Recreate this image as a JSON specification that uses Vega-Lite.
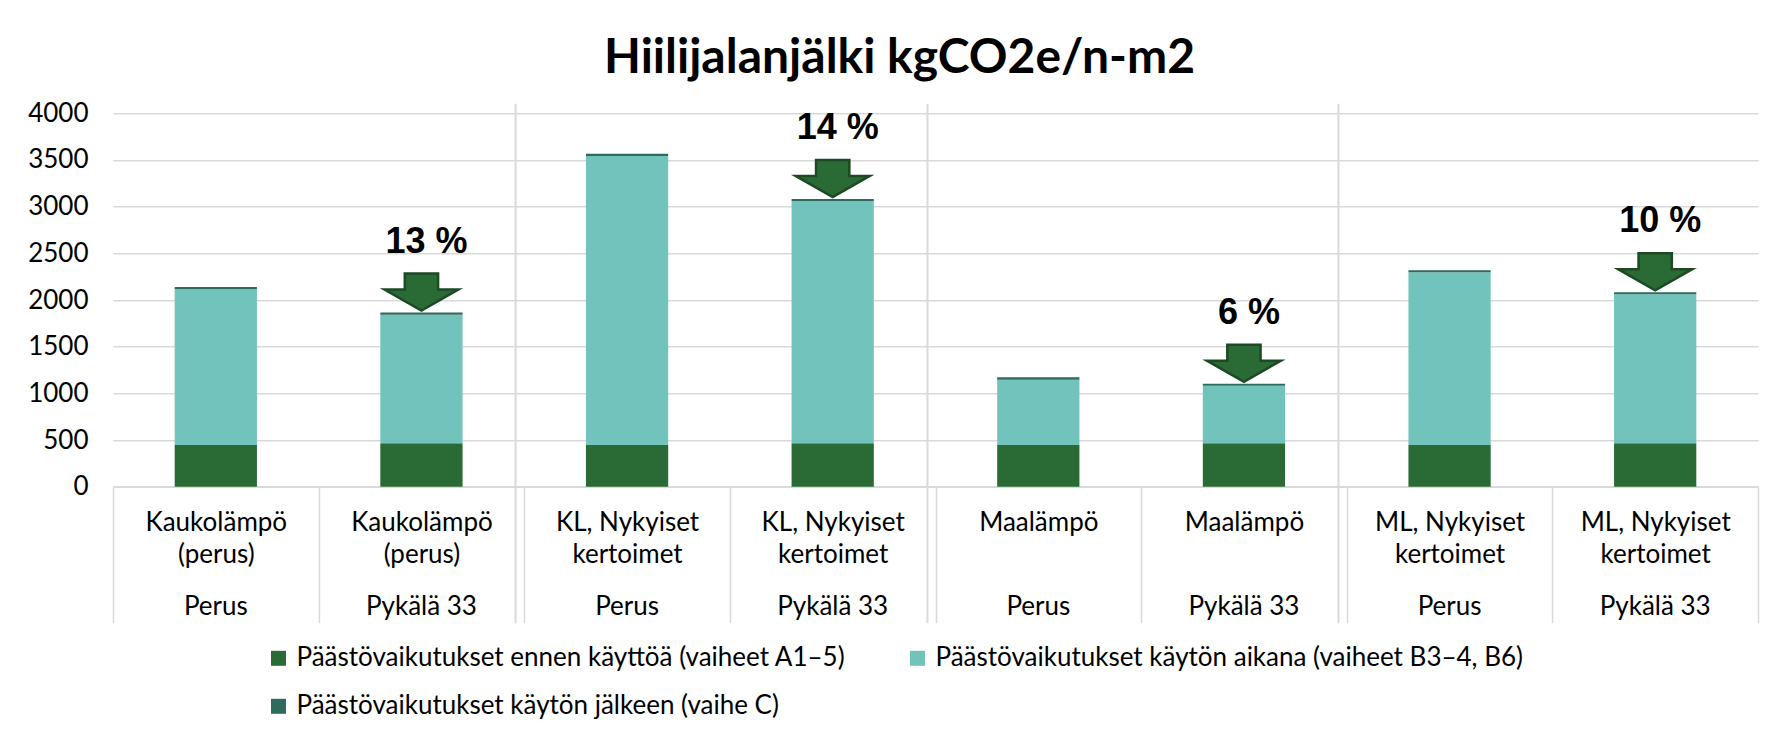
{
  "$schema": "https://vega.github.io/schema/vega-lite/v6.json",
  "width": 1645,
  "height": 373.4,
  "autosize": {"type": "none"},
  "padding": {"left": 113, "top": 113.3, "right": 33, "bottom": 250.3},
  "background": "white",
  "title": {"text": "Hiilijalanjälki kgCO2e/n-m2", "font": "Lato", "fontSize": 48, "fontWeight": "bold", "color": "#000000", "anchor": "middle", "frame": "group", "dx": -36, "offset": -21, "baseline": "alphabetic"},
  "datasets": {
    "bars": [
      {"cat": "Kaukolämpö|(perus)|Perus", "phase": "Päästövaikutukset ennen käyttöä (vaiheet A1–5)", "ord": 1, "value": 447},
      {"cat": "Kaukolämpö|(perus)|Perus", "phase": "Päästövaikutukset käytön aikana (vaiheet B3–4, B6)", "ord": 2, "value": 1668},
      {"cat": "Kaukolämpö|(perus)|Perus", "phase": "Päästövaikutukset käytön jälkeen (vaihe C)", "ord": 3, "value": 24},
      {"cat": "Kaukolämpö|(perus)|Pykälä 33", "phase": "Päästövaikutukset ennen käyttöä (vaiheet A1–5)", "ord": 1, "value": 465},
      {"cat": "Kaukolämpö|(perus)|Pykälä 33", "phase": "Päästövaikutukset käytön aikana (vaiheet B3–4, B6)", "ord": 2, "value": 1377},
      {"cat": "Kaukolämpö|(perus)|Pykälä 33", "phase": "Päästövaikutukset käytön jälkeen (vaihe C)", "ord": 3, "value": 23},
      {"cat": "KL, Nykyiset|kertoimet|Perus", "phase": "Päästövaikutukset ennen käyttöä (vaiheet A1–5)", "ord": 1, "value": 447},
      {"cat": "KL, Nykyiset|kertoimet|Perus", "phase": "Päästövaikutukset käytön aikana (vaiheet B3–4, B6)", "ord": 2, "value": 3096},
      {"cat": "KL, Nykyiset|kertoimet|Perus", "phase": "Päästövaikutukset käytön jälkeen (vaihe C)", "ord": 3, "value": 24},
      {"cat": "KL, Nykyiset|kertoimet|Pykälä 33", "phase": "Päästövaikutukset ennen käyttöä (vaiheet A1–5)", "ord": 1, "value": 465},
      {"cat": "KL, Nykyiset|kertoimet|Pykälä 33", "phase": "Päästövaikutukset käytön aikana (vaiheet B3–4, B6)", "ord": 2, "value": 2595},
      {"cat": "KL, Nykyiset|kertoimet|Pykälä 33", "phase": "Päästövaikutukset käytön jälkeen (vaihe C)", "ord": 3, "value": 22},
      {"cat": "Maalämpö||Perus", "phase": "Päästövaikutukset ennen käyttöä (vaiheet A1–5)", "ord": 1, "value": 447},
      {"cat": "Maalämpö||Perus", "phase": "Päästövaikutukset käytön aikana (vaiheet B3–4, B6)", "ord": 2, "value": 699},
      {"cat": "Maalämpö||Perus", "phase": "Päästövaikutukset käytön jälkeen (vaihe C)", "ord": 3, "value": 26},
      {"cat": "Maalämpö||Pykälä 33", "phase": "Päästövaikutukset ennen käyttöä (vaiheet A1–5)", "ord": 1, "value": 465},
      {"cat": "Maalämpö||Pykälä 33", "phase": "Päästövaikutukset käytön aikana (vaiheet B3–4, B6)", "ord": 2, "value": 617},
      {"cat": "Maalämpö||Pykälä 33", "phase": "Päästövaikutukset käytön jälkeen (vaihe C)", "ord": 3, "value": 21},
      {"cat": "ML, Nykyiset|kertoimet|Perus", "phase": "Päästövaikutukset ennen käyttöä (vaiheet A1–5)", "ord": 1, "value": 447},
      {"cat": "ML, Nykyiset|kertoimet|Perus", "phase": "Päästövaikutukset käytön aikana (vaiheet B3–4, B6)", "ord": 2, "value": 1850},
      {"cat": "ML, Nykyiset|kertoimet|Perus", "phase": "Päästövaikutukset käytön jälkeen (vaihe C)", "ord": 3, "value": 21},
      {"cat": "ML, Nykyiset|kertoimet|Pykälä 33", "phase": "Päästövaikutukset ennen käyttöä (vaiheet A1–5)", "ord": 1, "value": 465},
      {"cat": "ML, Nykyiset|kertoimet|Pykälä 33", "phase": "Päästövaikutukset käytön aikana (vaiheet B3–4, B6)", "ord": 2, "value": 1596},
      {"cat": "ML, Nykyiset|kertoimet|Pykälä 33", "phase": "Päästövaikutukset käytön jälkeen (vaihe C)", "ord": 3, "value": 22}
    ],
    "pcts": [
      {"cat": "Kaukolämpö|(perus)|Pykälä 33", "pct": "13 %"},
      {"cat": "KL, Nykyiset|kertoimet|Pykälä 33", "pct": "14 %"},
      {"cat": "Maalämpö||Pykälä 33", "pct": "6 %"},
      {"cat": "ML, Nykyiset|kertoimet|Pykälä 33", "pct": "10 %"}
    ]
  },
  "layer": [
    {
      "data": {"name": "bars"},
      "mark": {"type": "bar", "width": {"band": 0.4}},
      "encoding": {
        "x": {
          "field": "cat", "type": "nominal", "sort": null,
          "scale": {
            "domain": ["Kaukolämpö|(perus)|Perus", "Kaukolämpö|(perus)|Pykälä 33", "KL, Nykyiset|kertoimet|Perus", "KL, Nykyiset|kertoimet|Pykälä 33", "Maalämpö||Perus", "Maalämpö||Pykälä 33", "ML, Nykyiset|kertoimet|Perus", "ML, Nykyiset|kertoimet|Pykälä 33"],
            "paddingInner": 0, "paddingOuter": 0
          },
          "axis": {
            "title": null, "orient": "bottom", "grid": false,
            "domainColor": "#D9D9D9", "domainWidth": 1.5,
            "tickBand": "extent", "tickColor": "#D9D9D9", "tickWidth": 1.5, "tickSize": 136,
            "labelFont": "Lato", "labelFontSize": 26, "labelColor": "#000000", "labelAngle": 0,
            "labelBaseline": "top", "labelPadding": -112.8, "labelLineHeight": 31.3,
            "labelOverlap": false, "labelBound": false, "labelLimit": 0,
            "labelExpr": "[split(datum.label,'|')[0], split(datum.label,'|')[1]]"
          }
        },
        "y": {
          "field": "value", "type": "quantitative", "stack": "zero", "title": null,
          "scale": {"domain": [0, 4000], "nice": false},
          "axis": {
            "values": [0, 500, 1000, 1500, 2000, 2500, 3000, 3500, 4000], "format": "d",
            "domain": false, "ticks": false,
            "labelFont": "Lato", "labelFontSize": 26, "labelColor": "#000000", "labelPadding": 25,
            "grid": true, "gridColor": "#D9D9D9", "gridWidth": 1.5
          }
        },
        "color": {
          "field": "phase", "type": "nominal",
          "scale": {
            "domain": ["Päästövaikutukset ennen käyttöä (vaiheet A1–5)", "Päästövaikutukset käytön aikana (vaiheet B3–4, B6)", "Päästövaikutukset käytön jälkeen (vaihe C)"],
            "range": ["#2A6B35", "#72C3BB", "#2E6B5E"]
          },
          "legend": {
            "orient": "none", "legendX": 152.5, "legendY": 532,
            "direction": "horizontal", "columns": 2, "title": null,
            "symbolType": "square", "symbolSize": 225, "symbolStrokeWidth": 0,
            "labelFont": "Lato", "labelFontSize": 26, "labelColor": "#000000", "labelLimit": 1000,
            "columnPadding": 59, "rowPadding": 22, "labelOffset": 5, "padding": 0
          }
        },
        "order": {"field": "ord", "type": "quantitative"}
      }
    },
    {
      "data": {"name": "bars"},
      "mark": {"type": "point", "opacity": 0},
      "encoding": {
        "x": {
          "field": "cat", "type": "nominal", "sort": null,
          "axis": {
            "orient": "bottom", "title": null, "grid": false, "domain": false, "ticks": false,
            "labelFont": "Lato", "labelFontSize": 26, "labelColor": "#000000", "labelAngle": 0,
            "labelBaseline": "top", "labelPadding": 106.5,
            "labelOverlap": false, "labelBound": false, "labelLimit": 0,
            "labelExpr": "split(datum.label,'|')[2]"
          }
        }
      }
    },
    {
      "data": {"name": "bars"},
      "transform": [
        {"aggregate": [{"op": "sum", "field": "value", "as": "total"}], "groupby": ["cat"]},
        {"lookup": "cat", "from": {"data": {"name": "pcts"}, "key": "cat", "fields": ["pct"]}},
        {"filter": "isValid(datum.pct)"}
      ],
      "encoding": {
        "x": {
          "field": "cat", "type": "nominal", "sort": null,
          "axis": {
            "orient": "top", "title": null, "labels": false, "domain": false, "grid": false,
            "values": ["KL, Nykyiset|kertoimet|Perus", "Maalämpö||Perus", "ML, Nykyiset|kertoimet|Perus"],
            "bandPosition": 0, "tickSize": -519.4, "tickOffset": -9, "offset": 10,
            "tickColor": "#D9D9D9", "tickWidth": 2
          }
        },
        "y": {"field": "total", "type": "quantitative", "title": null}
      },
      "layer": [
        {
          "mark": {"type": "point", "shape": "M -0.45 -1 L 0.45 -1 L 0.45 -0.57 L 1 -0.57 L 0 0 L -1 -0.57 L -0.45 -0.57 Z", "size": 5476, "filled": true, "fill": "#2A6B35", "stroke": "#1D4A24", "strokeWidth": 2.5, "opacity": 1, "yOffset": -2}
        },
        {
          "mark": {"type": "text", "font": "Liberation Sans", "fontSize": 36, "fontWeight": "bold", "color": "#000000", "baseline": "alphabetic", "align": "center", "dy": -60, "dx": 5},
          "encoding": {"text": {"field": "pct", "type": "nominal"}}
        }
      ]
    }
  ],
  "resolve": {"axis": {"x": "independent"}},
  "config": {"view": {"stroke": null}}
}
